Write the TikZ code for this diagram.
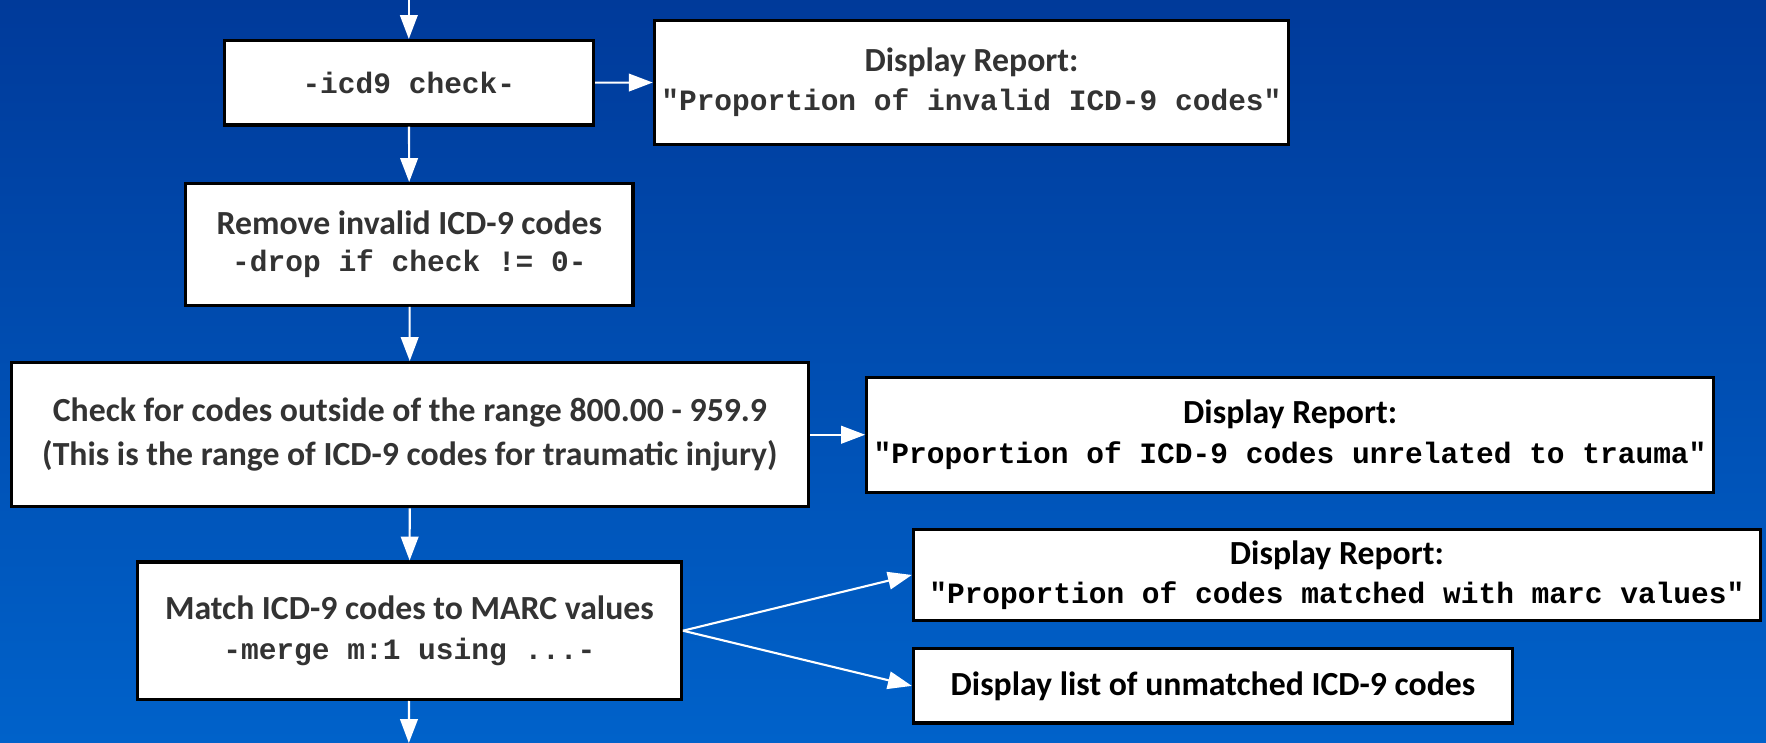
\documentclass[tikz,border=0pt]{standalone}
\usepackage{fontspec}
\setmainfont{Carlito}
\setmonofont{Liberation Mono}
\usetikzlibrary{arrows.meta,positioning}

\definecolor{bgtop}{RGB}{0,58,154}
\definecolor{bgbot}{RGB}{0,98,202}
\definecolor{boxtext}{RGB}{51,51,51}
\newlength{\px}
\setlength{\px}{0.011263cm}
\newcommand{\stcode}[1]{{\fontsize{8.4}{11.2}\selectfont\ttfamily\bfseries #1}}

\begin{document}
\begin{tikzpicture}[x=\px,y=-\px]
			\tikzstyle{Step}	= [draw=black, line width=0.9pt, fill=white, align=center, inner sep=2pt, text=boxtext, font=\fontsize{9.6}{11.2}\selectfont\bfseries]
			\tikzstyle{Report}	= [Step, text=black]
			\tikzstyle{Flow}	= [white, line width=0.6pt, -{Triangle[length=6.8pt,width=5pt]}]

			% background
			\fill [top color=bgtop, bottom color=bgbot] (0,0) rectangle (1568,659.7);
			\useasboundingbox (0,0) rectangle (1568,659.7);

			\coordinate (in) at (363,0);
			\coordinate (out) at (363,659.7);

			\node (chk) at (363,73.5) [Step, minimum width=328\px, minimum height=75\px] {\stcode{-icd9 check-}};
			\node (rep1) at (862.5,73) [Step, minimum width=561\px, minimum height=110\px] {Display Report:\\ \stcode{"Proportion of invalid ICD-9 codes"}};
			\node (drop) at (363.5,217) [Step, minimum width=397\px, minimum height=108\px, font=\fontsize{9.6}{10.6}\selectfont\bfseries] {Remove invalid ICD-9 codes\\ \stcode{-drop if check != 0-}};
			\node (range) at (364,386) [Step, minimum width=708\px, minimum height=128\px, font=\fontsize{9.6}{12.6}\selectfont\bfseries] {Check for codes outside of the range 800.00 - 959.9\\ (This is the range of ICD-9 codes for traumatic injury)};
			\node (rep2) at (1145.5,386) [Report, minimum width=751\px, minimum height=102\px] {Display Report:\\ \stcode{"Proportion of ICD-9 codes unrelated to trauma"}};
			\node (match) at (363.5,560) [Step, minimum width=483\px, minimum height=122\px] {Match ICD-9 codes to MARC values\\ \stcode{-merge m:1 using ...-}};
			\node (rep3) at (1187,510.5) [Report, minimum width=752\px, minimum height=81\px] {Display Report:\\ \stcode{"Proportion of codes matched with marc values"}};
			\node (list) at (1077,609) [Report, minimum width=532\px, minimum height=66\px] {Display list of unmatched ICD-9 codes};

			\draw (in) to (chk) [Flow];
			\draw (chk) to (rep1) [Flow];
			\draw (chk) to (drop) [Flow];
			\draw (drop) to (range) [Flow];
			\draw (range.east |- rep2.west) to (rep2.west) [Flow];
			\draw (range) to (match) [Flow];
			\draw (match.east) to (rep3.west) [Flow];
			\draw (match.east) to (list.west) [Flow];
			\draw (match) to (out) [Flow];
\end{tikzpicture}
\end{document}
